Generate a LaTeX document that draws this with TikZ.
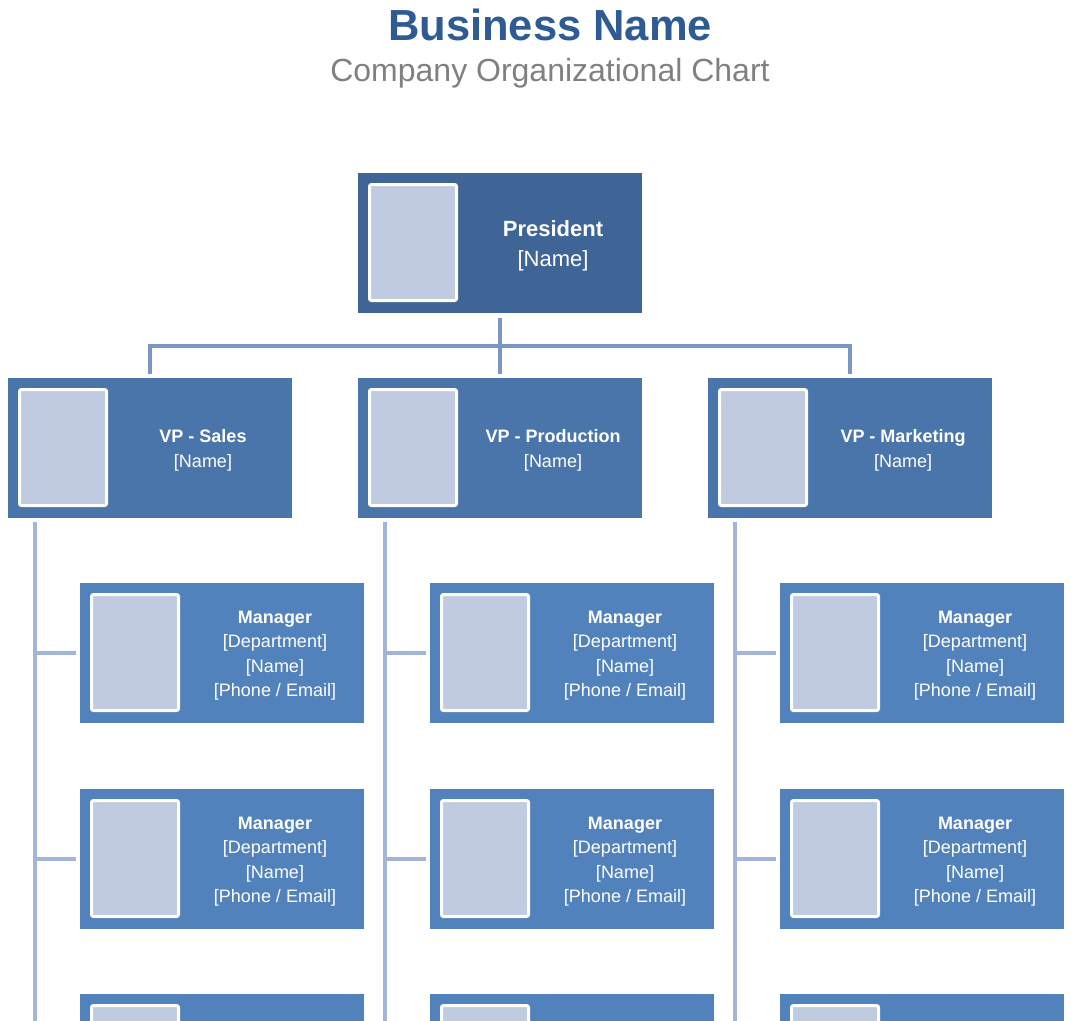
\documentclass[tikz,border=0pt]{standalone}
\usepackage{fontspec}
\setmainfont{Liberation Sans}
\definecolor{presC}{HTML}{3F6496}
\definecolor{vpC}{HTML}{4A75AB}
\definecolor{mgrC}{HTML}{5282BC}
\definecolor{photoC}{HTML}{C0CBE1}
\definecolor{connC}{HTML}{7A96C5}
\definecolor{treeC}{HTML}{A3B5D6}
\definecolor{titleC}{HTML}{2E5B93}
\definecolor{subC}{HTML}{808080}
\newcommand\orgcard[6]{%
  \node[#4] (#1) at (#2,#3) {};
  \node[photo] (#1p) at ([shift={(55,69.5)}]#1.north west) {};
  \node[#5] (#1t) at ([shift={(195,2.5)}]#1.west) {#6};}
\begin{document}
\begin{tikzpicture}[x=1pt,y=-1pt,
  cardbase/.style={rectangle, inner sep=0pt, outer sep=0pt, minimum width=284pt, minimum height=140pt, anchor=north west},
  prescard/.style={cardbase, fill=presC},
  vpcard/.style={cardbase, fill=vpC},
  mgrcard/.style={cardbase, fill=mgrC},
  photo/.style={draw=white, line width=3pt, fill=photoC, rounded corners=2pt, minimum width=87pt, minimum height=116pt, inner sep=0pt},
  cardtext/.style={text=white, align=center, inner sep=0pt},
  prestext/.style={cardtext, font=\fontsize{22}{30}\selectfont},
  subtext/.style={cardtext, font=\fontsize{18}{24.4}\selectfont},
  conn/.style={draw=connC, line width=4pt},
  trunk/.style={draw=treeC, line width=4pt}]
\useasboundingbox (0,0) rectangle (1073,1020);
\clip (0,0) rectangle (1073,1020);
% titles
\node[anchor=base, text=titleC, font=\fontsize{43.5}{50}\selectfont\bfseries, inner sep=0pt] (title) at (550,40) {Business Name};
\node[anchor=base, text=subC, font=\fontsize{32}{38}\selectfont, inner sep=0pt] (subtitle) at (550,81) {Company Organizational Chart};
% president
\orgcard{pres}{358}{173}{prescard}{prestext}{\textbf{President}\\{[Name]}}
% VPs
\orgcard{vpa}{8}{378}{vpcard}{subtext}{\textbf{VP - Sales}\\{[Name]}}
\orgcard{vpb}{358}{378}{vpcard}{subtext}{\textbf{VP - Production}\\{[Name]}}
\orgcard{vpc}{708}{378}{vpcard}{subtext}{\textbf{VP - Marketing}\\{[Name]}}
% managers
\foreach \col/\x in {a/80,b/430,c/780}{
  \foreach \row/\y in {1/583,2/789}{
    \orgcard{m\col\row}{\x}{\y}{mgrcard}{subtext}{\textbf{Manager}\\{[Department]}\\{[Name]}\\{[Phone / Email]}}
  }
  \node[mgrcard] (m\col3) at (\x,994) {};
  \node[photo] (m\col3p) at ([shift={(55,69.5)}]m\col3.north west) {};
}
% connectors president -> VPs
\draw[conn] ([yshift=-5pt]pres.south) -- ([yshift=4pt]vpb.north);
\draw[conn] ([yshift=4pt]vpa.north) -- ([yshift=32pt]vpa.north) -- ([yshift=32pt]vpc.north) -- ([yshift=4pt]vpc.north);
% trunks and branches
\foreach \v/\c in {vpa/a,vpb/b,vpc/c}{
  \draw[trunk] ([shift={(27,4)}]\v.south west) -- ([shift={(27,530)}]\v.south west);
  \foreach \r in {1,2}{
    \draw[trunk] ([shift={(-45,0)}]m\c\r.west) -- ([shift={(-4,0)}]m\c\r.west);
  }
}
\end{tikzpicture}
\end{document}
